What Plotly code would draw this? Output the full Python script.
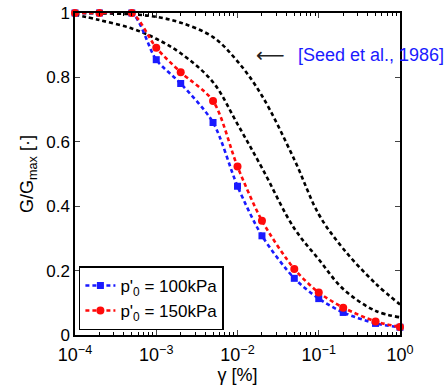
import plotly.graph_objects as go

# Measured data
gamma_data = [1e-4, 2e-4, 5e-4, 1e-3, 2e-3, 5e-3, 1e-2, 2e-2, 5e-2, 0.1, 0.2, 0.5, 1.0]
g_100kpa = [1.0, 1.0, 1.0, 0.855, 0.781, 0.660, 0.462, 0.308, 0.176, 0.113, 0.070, 0.036, 0.024]
g_150kpa = [1.0, 1.0, 1.0, 0.892, 0.816, 0.727, 0.523, 0.355, 0.205, 0.132, 0.085, 0.042, 0.025]

# Seed et al. (1986) bounds
gamma_seed = [1e-4, 2e-4, 5e-4, 1e-3, 2e-3, 5e-3, 1e-2, 2e-2, 5e-2, 0.1, 0.2, 0.5, 1.0]
seed_lower = [0.995, 0.978, 0.952, 0.92, 0.875, 0.785, 0.655, 0.519, 0.331, 0.235, 0.143, 0.075, 0.055]
seed_upper = [1.0, 0.999, 0.996, 0.988, 0.970, 0.925, 0.85, 0.743, 0.545, 0.375, 0.268, 0.16, 0.095]

x_tickvals = [1e-4, 1e-3, 1e-2, 1e-1, 1]
x_ticktext = ["10<sup>−4</sup>", "10<sup>−3</sup>", "10<sup>−2</sup>", "10<sup>−1</sup>", "10<sup>0</sup>"]
y_tickvals = [0, 0.2, 0.4, 0.6, 0.8, 1]
y_ticktext = ["0", "0.2", "0.4", "0.6", "0.8", "1"]

FONT = "Liberation Sans, Arial, sans-serif"
BLUE = "#1a1aff"
RED = "#ff0a0a"

fig = go.Figure()
for yv in (seed_lower, seed_upper):
    fig.add_trace(go.Scatter(
        x=gamma_seed, y=yv, mode="lines", showlegend=False,
        line=dict(color="black", width=2.6, dash="4px,3px", shape="spline", smoothing=1.0),
        hoverinfo="skip"))

fig.add_trace(go.Scatter(
    x=gamma_data, y=g_100kpa, mode="lines+markers", name="p'<sub>0</sub> = 100kPa",
    line=dict(color=BLUE, width=2.6, dash="4px,3px", shape="spline", smoothing=0.8),
    marker=dict(symbol="square", size=7, color=BLUE), cliponaxis=False))
fig.add_trace(go.Scatter(
    x=gamma_data, y=g_150kpa, mode="lines+markers", name="p'<sub>0</sub> = 150kPa",
    line=dict(color=RED, width=2.6, dash="4px,3px", shape="spline", smoothing=0.8),
    marker=dict(symbol="circle", size=8, color=RED), cliponaxis=False))

fig.add_annotation(x=0.6, y=0.87, xref="paper", yref="paper", text="⟵", showarrow=False,
                   font=dict(size=20, color="#222222", family="DejaVu Sans"), xanchor="center", yanchor="middle")
fig.add_annotation(x=1.142, y=0.87, xref="paper", yref="paper", text="[Seed et al., 1986]",
                   showarrow=False, font=dict(size=18, color=BLUE, family=FONT),
                   xanchor="right", yanchor="middle")

fig.update_layout(
    width=448, height=390,
    margin=dict(l=75, r=48, t=13, b=55, autoexpand=False),
    paper_bgcolor="white", plot_bgcolor="white",
    font=dict(family=FONT, size=17, color="black"),
    legend=dict(x=0.012, y=0.213, xanchor="left", yanchor="top",
                bordercolor="black", borderwidth=1.5, bgcolor="white",
                font=dict(size=17), itemwidth=30, tracegroupgap=0),
    xaxis=dict(type="log", range=[-4, 0], tickvals=x_tickvals, ticktext=x_ticktext,
               ticks="inside", ticklen=5, tickwidth=1, mirror="ticks", showline=True,
               linecolor="black", linewidth=1.5, showgrid=False, zeroline=False,
               tickfont=dict(size=18), ticklabelstandoff=3,
               minor=dict(ticks="inside", ticklen=3, tickcolor="black", showgrid=False, dtick="D1"),
               title=dict(text="γ [%]", font=dict(size=18), standoff=0)),
    yaxis=dict(range=[0, 1], tickvals=y_tickvals, ticktext=y_ticktext,
               ticks="inside", ticklen=5, tickwidth=1, mirror="ticks", showline=True,
               linecolor="black", linewidth=1.5, showgrid=False, zeroline=False,
               tickfont=dict(size=17),
               title=dict(text="G/G<sub>max</sub> [·]", font=dict(size=18), standoff=8)),
)

fig.write_html("out.html", config={"displayModeBar": False},
               post_script="document.body.style.margin='0';document.body.style.overflow='hidden';")
